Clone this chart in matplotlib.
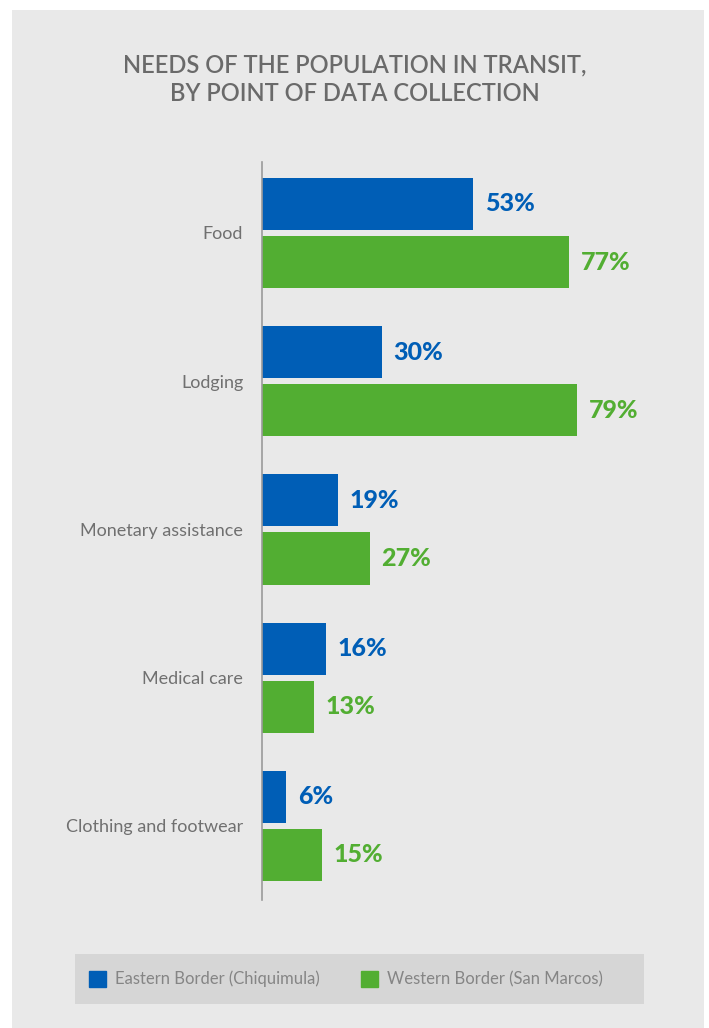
import matplotlib.pyplot as plt
from matplotlib.patches import Rectangle, Patch

categories = ["Food", "Lodging", "Monetary assistance", "Medical care", "Clothing and footwear"]
eastern = [53, 30, 19, 16, 6]
western = [77, 79, 27, 13, 15]
series_names = ["Eastern Border (Chiquimula)", "Western Border (San Marcos)"]

blue = "#005eb6"
green = "#52ae32"
W, H = 709, 1028

plt.rcParams['font.family'] = ['Lato', 'DejaVu Sans']
fig = plt.figure(figsize=(W / 100, H / 100), dpi=100, facecolor="white")

# grey panel behind everything
fig.patches.append(Rectangle((12 / W, 0), 692 / W, 1 - 10 / H, transform=fig.transFigure,
                             facecolor="#e9e9e9", edgecolor="none", zorder=-10))

ax = fig.add_axes([262 / W, 1 - 900 / H, 399 / W, 738 / H])
ax.patch.set_alpha(0)

y = list(range(len(categories)))
off = 0.196
h = 0.351
b1 = ax.barh([v - off for v in y], eastern, height=h, color=blue, label=series_names[0])
b2 = ax.barh([v + off for v in y], western, height=h, color=green, label=series_names[1])

for bars, vals, col in [(b1, eastern, blue), (b2, western, green)]:
    for bar, v in zip(bars, vals):
        ax.annotate(f"{v}%", (bar.get_width(), bar.get_y() + bar.get_height() / 2),
                    xytext=(8.5, 0), textcoords="offset points", va="center", ha="left",
                    color=col, fontsize=18, fontweight="black")

ax.set_xlim(0, 100)
ax.set_ylim(4.5, -0.479)
ax.set_yticks(y)
ax.set_yticklabels(categories, fontsize=13, color="#707070", fontweight="normal")
ax.tick_params(axis="y", length=0, pad=13.5)
ax.set_xticks([])
for s in ["top", "right", "bottom"]:
    ax.spines[s].set_visible(False)
ax.spines["left"].set_color("#9a9a9a")
ax.spines["left"].set_linewidth(1.2)

fig.text(0.5, 1 - 79 / H, "NEEDS OF THE POPULATION IN TRANSIT,\nBY POINT OF DATA COLLECTION",
         ha="center", va="center", fontsize=17, color="#6a6a6a", linespacing=1.3,
         fontweight="semibold")

# legend strip
fig.patches.append(Rectangle((75 / W, 1 - 1004 / H), 569 / W, 50 / H, transform=fig.transFigure,
                             facecolor="#d6d6d6", edgecolor="none", zorder=-5))
handles = [Patch(color=blue), Patch(color=green)]
fig.legend(handles, series_names, loc="center left", bbox_to_anchor=(89 / W, 1 - 979 / H),
           ncol=2, frameon=False, borderpad=0, borderaxespad=0,
           handlelength=1.02, handleheight=1.15, handletextpad=0.55, columnspacing=2.45,
           labelcolor="#858585", prop={"weight": "normal", "size": 12})

fig.savefig("out.png", dpi=100, facecolor="white")
